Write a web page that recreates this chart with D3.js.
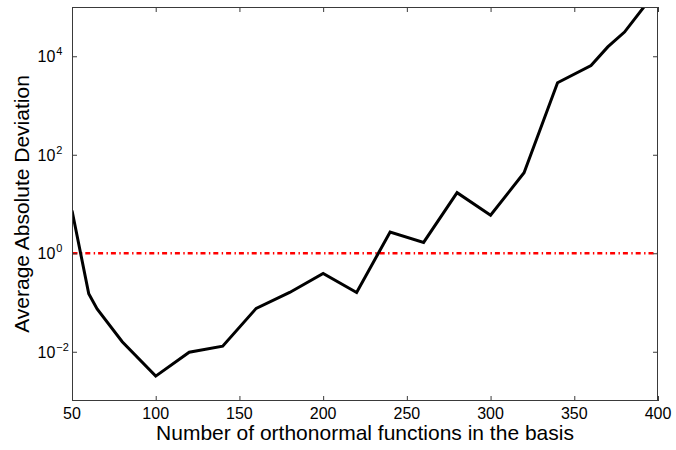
<!DOCTYPE html>
<html>
<head>
<meta charset="utf-8">
<script src="https://cdn.jsdelivr.net/npm/d3@7"></script>
<style>
  html, body { margin: 0; padding: 0; background: #fff; }
  svg { display: block; }
  text { font-family: "Liberation Sans", Arial, Helvetica, sans-serif; fill: #000; }
</style>
</head>
<body>
<svg id="chart" width="676" height="450"></svg>
<script>
// ---- data ----
const basisSizes = [50, 60, 65, 80, 100, 120, 140, 160, 180, 200, 220, 240, 260, 280, 300, 320, 340, 360, 370, 380, 400];
const avgAbsDeviation = [7.4, 0.15, 0.074, 0.016, 0.0032, 0.0098, 0.013, 0.076, 0.16, 0.39, 0.16, 2.7, 1.66, 17, 5.9, 43, 2900, 6500, 15500, 31000, 234000];
const thresholdValue = 1;
const xTickValues = [50, 100, 150, 200, 250, 300, 350, 400];
const yTickExponents = [-2, 0, 2, 4];
const xDomain = [50, 400];
const yDomain = [1e-3, 1e5];
const xTitle = "Number of orthonormal functions in the basis";
const yTitle = "Average Absolute Deviation";

// ---- layout ----
const L = 72, R = 658, T = 7, B = 401;
const svg = d3.select("#chart");
const x = d3.scaleLinear().domain(xDomain).range([L, R]);
const y = d3.scaleLog().domain(yDomain).range([B, T]);
const axisColor = "#3a3a3a";

svg.append("defs").append("clipPath").attr("id", "plotclip")
  .append("rect").attr("x", L).attr("y", T).attr("width", R - L).attr("height", B - T);

// threshold line (red dash-dot)
svg.append("line")
  .attr("x1", x(xDomain[0])).attr("x2", x(xDomain[1]))
  .attr("y1", y(thresholdValue)).attr("y2", y(thresholdValue))
  .attr("stroke", "#ff0000").attr("stroke-width", 2.6)
  .attr("stroke-dasharray", "5,3.4,1.4,3")
  .attr("stroke-dashoffset", -0.5);

// data line
const line = d3.line().x((d, i) => x(basisSizes[i])).y(d => y(d));
svg.append("path")
  .datum(avgAbsDeviation)
  .attr("clip-path", "url(#plotclip)")
  .attr("d", line)
  .attr("fill", "none")
  .attr("stroke", "#000")
  .attr("stroke-width", 3)
  .attr("stroke-linejoin", "miter");

// axes (ticks inward, both sides)
const yTicks = yTickExponents.map(e => Math.pow(10, e));
function styleAxis(g) {
  g.select(".domain").remove();
  g.selectAll(".tick line").attr("stroke", axisColor).attr("stroke-width", 1);
  g.selectAll(".tick text").remove();
}
svg.append("g").attr("transform", `translate(0,${B})`)
  .call(d3.axisBottom(x).tickValues(xTickValues).tickSizeInner(-5).tickSizeOuter(0)).call(styleAxis);
svg.append("g").attr("transform", `translate(0,${T})`)
  .call(d3.axisTop(x).tickValues(xTickValues).tickSizeInner(-5).tickSizeOuter(0)).call(styleAxis);
svg.append("g").attr("transform", `translate(${L},0)`)
  .call(d3.axisLeft(y).tickValues(yTicks).tickSizeInner(-5).tickSizeOuter(0)).call(styleAxis);
svg.append("g").attr("transform", `translate(${R},0)`)
  .call(d3.axisRight(y).tickValues(yTicks).tickSizeInner(-5).tickSizeOuter(0)).call(styleAxis);

// frame
svg.append("rect")
  .attr("x", L + 0.5).attr("y", T + 0.5)
  .attr("width", R - L - 1).attr("height", B - T - 1)
  .attr("fill", "none").attr("stroke", axisColor).attr("stroke-width", 1);

// x tick labels
svg.append("g").selectAll("text").data(xTickValues).join("text")
  .attr("x", d => x(d)).attr("y", B + 18)
  .attr("text-anchor", "middle")
  .attr("font-size", 16)
  .text(d => d);

// y tick labels 10^e
const yl = svg.append("g").selectAll("text").data(yTickExponents).join("text")
  .attr("x", 37.5).attr("y", d => y(Math.pow(10, d)) + 6)
  .attr("font-size", 16);
yl.append("tspan").text("10");
yl.append("tspan").attr("font-size", 11).attr("dx", 1).attr("dy", -7)
  .text(d => (d < 0 ? "\u2212" + Math.abs(d) : String(d)));

// axis titles
svg.append("text")
  .attr("x", (L + R) / 2).attr("y", 440)
  .attr("text-anchor", "middle").attr("font-size", 21)
  .text(xTitle);
svg.append("text")
  .attr("transform", `translate(28.5,${(T + B) / 2}) rotate(-90)`)
  .attr("text-anchor", "middle").attr("font-size", 21)
  .text(yTitle);
</script>
</body>
</html>
